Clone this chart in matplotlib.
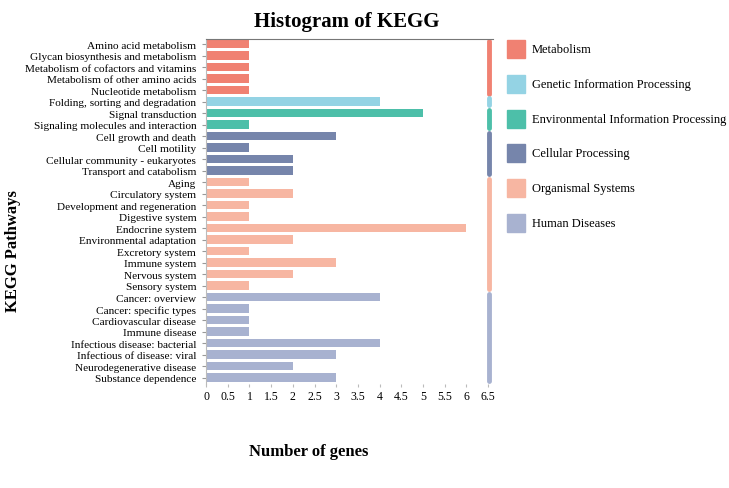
import matplotlib
matplotlib.use('Agg')
import matplotlib.pyplot as plt
import numpy as np

plt.rcParams['font.family'] = ['Liberation Serif', 'DejaVu Serif']

# KEGG pathway data
pathways = [
    'Amino acid metabolism', 'Glycan biosynthesis and metabolism',
    'Metabolism of cofactors and vitamins', 'Metabolism of other amino acids',
    'Nucleotide metabolism',
    'Folding, sorting and degradation',
    'Signal transduction', 'Signaling molecules and interaction',
    'Cell growth and death', 'Cell motility', 'Cellular community - eukaryotes',
    'Transport and catabolism',
    'Aging', 'Circulatory system', 'Development and regeneration',
    'Digestive system', 'Endocrine system', 'Environmental adaptation',
    'Excretory system', 'Immune system', 'Nervous system', 'Sensory system',
    'Cancer: overview', 'Cancer: specific types', 'Cardiovascular disease',
    'Immune disease', 'Infectious disease: bacterial',
    'Infectious of disease: viral', 'Neurodegenerative disease',
    'Substance dependence',
]
genes = [1, 1, 1, 1, 1,
         4,
         5, 1,
         3, 1, 2, 2,
         1, 2, 1, 1, 6, 2, 1, 3, 2, 1,
         4, 1, 1, 1, 4, 3, 2, 3]
groups = ['Metabolism', 'Genetic Information Processing',
          'Environmental Information Processing', 'Cellular Processing',
          'Organismal Systems', 'Human Diseases']
group_sizes = [5, 1, 2, 4, 10, 8]
group_colors = ['#F08172', '#94D3E4', '#4DBFA9', '#7685AB', '#F7B6A2', '#A8B2D0']

fig = plt.figure(figsize=(7.29, 4.89), dpi=100)
ax = fig.add_axes([0.2826, 0.2127, 0.393, 0.7055])

colors = []
for c, n in zip(group_colors, group_sizes):
    colors += [c] * n
y = np.arange(len(pathways))
ax.barh(y, genes, height=0.75, color=colors)

# group marker lines on the right
start = 0
for c, n in zip(group_colors, group_sizes):
    ax.plot([6.53, 6.53], [start - 0.3, start + n - 0.7], color=c, lw=3.5,
            solid_capstyle='round', clip_on=False)
    start += n

ax.set_ylim(len(pathways) - 0.45, -0.45)
ax.set_xlim(0, 6.6)
ax.set_yticks(y)
ax.set_yticklabels(pathways, fontsize=8.1)
ax.set_xticks(np.arange(0, 7, 0.5))
ax.set_xticklabels(['0', '0.5', '1', '1.5', '2', '2.5', '3', '3.5', '4', '4.5',
                    '5', '5.5', '6', '6.5'], fontsize=8.5)
ax.tick_params(axis='y', length=3, color='#999999', pad=4)
ax.tick_params(axis='x', length=2.5, color='#bbbbbb', pad=2)
ax.spines['right'].set_visible(False)
ax.spines['bottom'].set_visible(False)
ax.spines['left'].set_color('#bbbbbb')
ax.spines['top'].set_color('#777777')

fig.text(0.476, 0.975, 'Histogram of KEGG', fontsize=15, fontweight='bold',
         ha='center', va='top')
fig.text(0.018, 0.487, 'KEGG Pathways', fontsize=12, fontweight='bold',
         rotation=90, ha='center', va='center')
fig.text(0.423, 0.075, 'Number of genes', fontsize=12, fontweight='bold',
         ha='center', va='center')

# legend
for i, (g, c) in enumerate(zip(groups, group_colors)):
    yy = 1 - (50 + i * 34.8) / 489
    fig.patches.append(plt.Rectangle((507 / 729, yy - 9 / 489), 18 / 729, 18 / 489,
                                     transform=fig.transFigure, color=c))
    fig.text(532 / 729, yy, g, fontsize=9, ha='left', va='center')

fig.savefig('out.png', dpi=100)
